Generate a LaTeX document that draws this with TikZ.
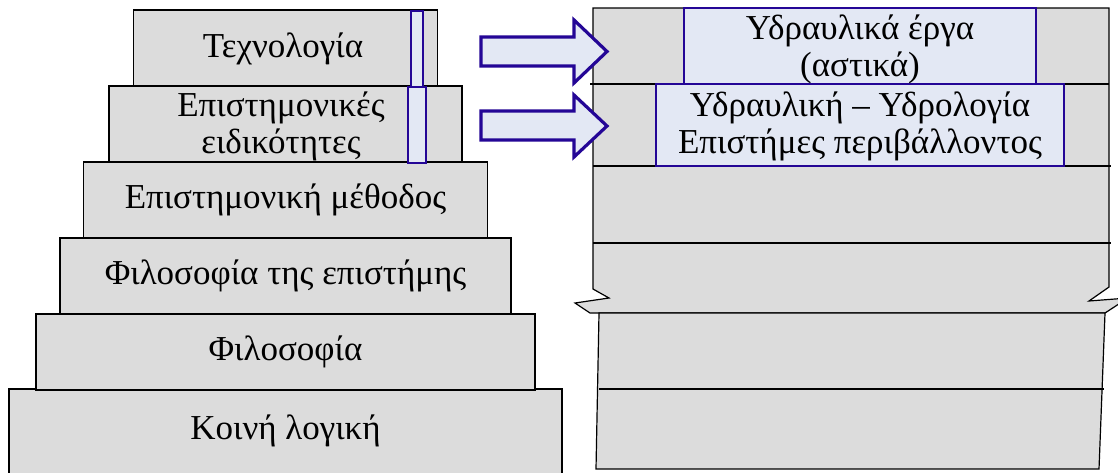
\documentclass[tikz,border=0pt]{standalone}
\usepackage{fontspec}
\setmainfont{Liberation Serif}
\definecolor{gfill}{RGB}{220,220,220}
\definecolor{bfill}{RGB}{227,232,244}
\definecolor{bdraw}{RGB}{36,6,150}
\begin{document}
\begin{tikzpicture}[x=1pt,y=-1pt,
  txt/.style={font=\fontsize{35}{37}\selectfont, align=center, inner sep=0pt},
  lbox/.style={draw=black, fill=gfill, line width=1.2pt, inner sep=0pt, outer sep=0pt,
    font=\fontsize{35}{37}\selectfont, align=center},
  bbox/.style={draw=bdraw, fill=bfill, line width=1.2pt, inner sep=0pt, outer sep=0pt,
    font=\fontsize{35}{37}\selectfont, align=center},
  barbox/.style={draw=bdraw, fill=bfill, line width=1.2pt},
  blockarrow/.style={draw=bdraw, fill=bfill, line width=3.2pt, line join=miter},
  rline/.style={draw=black, line width=1.2pt}]
\useasboundingbox (0,0) rectangle (1118,472);
\fill[white] (0,0) rectangle (1118,472);

% left stack
\node[lbox, minimum width=553pt, minimum height=92pt] (b6) at (285.5,435) {};
\node[txt] (t6) at (285.5,431) {Κοινή λογική};
\node[lbox, minimum width=499pt, minimum height=76pt] (b5) at (285.5,352) {Φιλοσοφία};
\node[lbox, minimum width=451pt, minimum height=76pt] (b4) at (285.5,276) {Φιλοσοφία της επιστήμης};
\node[lbox, minimum width=404pt, minimum height=76pt] (b3) at (285.5,200) {Επιστημονική μέθοδος};
\node[lbox, minimum width=353pt, minimum height=76pt] (b2) at (285.5,124) {};
\node[txt] (t2) at (281,126) {Επιστημονικές\\ειδικότητες};
\node[lbox, minimum width=304pt, minimum height=76pt] (b1) at (285.5,48) {};
\node[txt] (t1) at (283,49) {Τεχνολογία};

% narrow bars
\draw[barbox] (411,11) rectangle (423,87);
\draw[barbox] (408,87) rectangle (426,163);

% right stack
\filldraw[rline, fill=gfill] (593,8) -- (1109,8) -- (1109,287) -- (1089,301) -- (1128,298)
  -- (1105,313) -- (590,313) -- (575,303) -- (609,298) -- (593,289) -- cycle;
\filldraw[rline, fill=gfill] (599,313) -- (1105,313) -- (1099,469) -- (596,469) -- cycle;
\draw[rline] (590,84) -- (1109,84);
\draw[rline] (593,166) -- (1111,166);
\draw[rline] (593,243) -- (1111,243);
\draw[rline] (599,389) -- (1104,389);

% blue boxes on right
\node[bbox, minimum width=352pt, minimum height=76pt] (ra) at (860,46) {};
\node[txt] (ta) at (860,49) {Υδραυλικά έργα\\(αστικά)};
\node[bbox, minimum width=408pt, minimum height=82pt] (rb) at (860,125) {};
\node[txt] (tb) at (860,126) {Υδραυλική – Υδρολογία\\Επιστήμες περιβάλλοντος};

% block arrows
\draw[blockarrow] (481,37) -- (574,37) -- (574,20) -- (607,51.5) -- (574,83) -- (574,66) -- (481,66) -- cycle;
\draw[blockarrow] (481,111) -- (574,111) -- (574,95) -- (607,126) -- (574,157) -- (574,140) -- (481,140) -- cycle;
\end{tikzpicture}
\end{document}
